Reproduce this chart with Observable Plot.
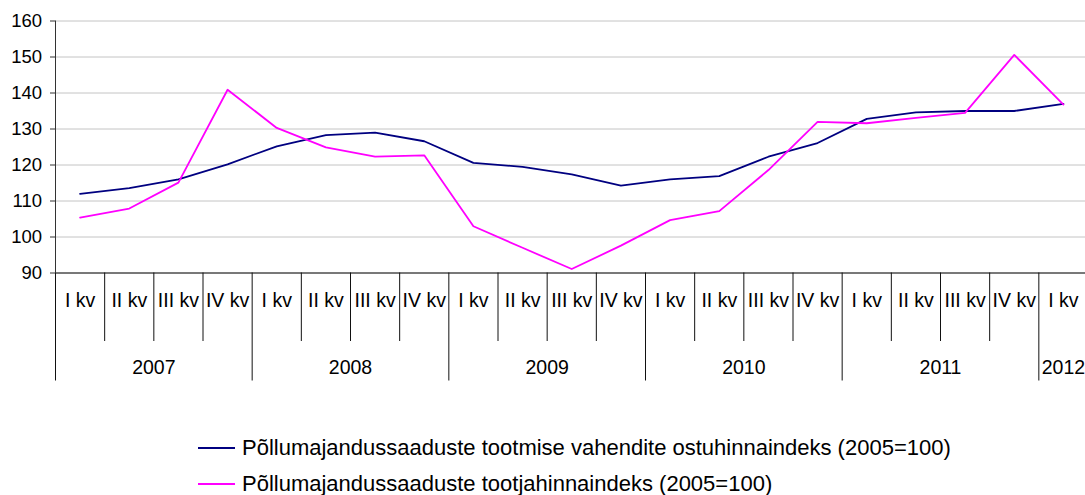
<!DOCTYPE html>
<html>
<head>
<meta charset="utf-8">
<script src="https://cdn.jsdelivr.net/npm/d3@7"></script>
<script src="https://cdn.jsdelivr.net/npm/@observablehq/plot@0.6"></script>
<style>
  html, body { margin: 0; padding: 0; background: #fff; }
  body { width: 1085px; height: 495px; position: relative; overflow: hidden; font-family: "Liberation Sans", Arial, sans-serif; }
  #chart { position: absolute; left: 0; top: 0; }
  .leg { position: absolute; left: 0; height: 30px; display: flex; align-items: center; font-size: 22px; color: #000; white-space: nowrap; }
  .leg .sw { width: 37px; height: 2px; margin-left: 198px; margin-right: 7px; }
</style>
</head>
<body>
<div id="chart"></div>
<div class="leg" id="leg1" style="top:432.5px"><span class="sw"></span><span class="tx"></span></div>
<div class="leg" id="leg2" style="top:469px"><span class="sw"></span><span class="tx"></span></div>
<script>
// ---- data ----
const quarterLabels = ["I kv","II kv","III kv","IV kv"];
const years = ["2007","2008","2009","2010","2011","2012"];
const quartersPerYear = [4, 4, 4, 4, 4, 1];
const inputIndex = [112.0, 113.6, 116.0, 120.2, 125.2, 128.3, 129.0, 126.6, 120.6, 119.5, 117.4, 114.3, 116.0, 116.9, 122.3, 126.1, 132.8, 134.6, 135.0, 135.0, 137.0];
const producerIndex = [105.4, 107.9, 115.1, 140.9, 130.3, 124.9, 122.3, 122.7, 103.0, 97.0, 91.1, 97.6, 104.7, 107.2, 118.6, 132.0, 131.6, 133.1, 134.5, 150.6, 136.8];
const seriesNames = [
  "Põllumajandussaaduste tootmise vahendite ostuhinnaindeks (2005=100)",
  "Põllumajandussaaduste tootjahinnaindeks (2005=100)"
];
const seriesColors = ["#000080", "#ff00ff"];
const yTicks = [90, 100, 110, 120, 130, 140, 150, 160];

// ---- derived tables ----
const quarters = [];
const yearRows = [];
const yearEdges = [];
const quarterEdges = [];
let k = 0;
years.forEach((y, yi) => {
  const n = quartersPerYear[yi];
  yearEdges.push(k - 0.5);
  for (let q = 0; q < n; q++) {
    quarters.push({i: k, label: quarterLabels[q], year: y});
    if (q > 0) quarterEdges.push(k - 0.5);
    k++;
  }
  yearRows.push({year: y, c: (k - n + k - 1) / 2});
});
const s1 = inputIndex.map((v, i) => ({i, v}));
const s2 = producerIndex.map((v, i) => ({i, v}));

const H = 400, TOP = 20.5, BOTTOM = 272.5;
const font = "'Liberation Sans', Arial, sans-serif";

const plot = Plot.plot({
  width: 1085,
  height: H,
  marginTop: TOP,
  marginBottom: H - BOTTOM,
  marginLeft: 55,
  marginRight: 0,
  style: {fontFamily: font, color: "#000", background: "#fff", overflow: "visible"},
  x: {type: "linear", domain: [-0.5, quarters.length - 0.5], range: [55, 1087.5]},
  y: {domain: [90, 160]},
  marks: [
    Plot.gridY(yTicks, {stroke: "#c4c4c4", strokeOpacity: 1, strokeWidth: 1}),
    Plot.line(s1, {x: "i", y: "v", stroke: seriesColors[0], strokeWidth: 1.8}),
    Plot.line(s2, {x: "i", y: "v", stroke: seriesColors[1], strokeWidth: 1.8}),
    Plot.ruleY([90], {stroke: "#111"}),
    Plot.ruleX([-0.5], {stroke: "#333"}),
    Plot.axisY(yTicks, {tickSize: 5, tickPadding: 8.5, fontSize: 18.5, label: null, stroke: "#333"}),
    Plot.axisX(quarterEdges, {tickSize: 68.5, tickFormat: () => "", label: null, stroke: "#111"}),
    Plot.axisX(yearEdges, {tickSize: 108, tickFormat: () => "", label: null, stroke: "#111"}),
    Plot.text(quarters, {x: "i", text: "label", frameAnchor: "bottom", lineAnchor: "middle", dy: 28, fontSize: 19.5, fill: "#000"}),
    Plot.text(yearRows, {x: "c", text: "year", frameAnchor: "bottom", lineAnchor: "middle", dy: 95, fontSize: 19.5, fill: "#000"})
  ]
});
document.getElementById("chart").appendChild(plot);

["leg1", "leg2"].forEach((id, j) => {
  const el = document.getElementById(id);
  el.querySelector(".sw").style.background = seriesColors[j];
  el.querySelector(".tx").textContent = seriesNames[j];
});
</script>
</body>
</html>
